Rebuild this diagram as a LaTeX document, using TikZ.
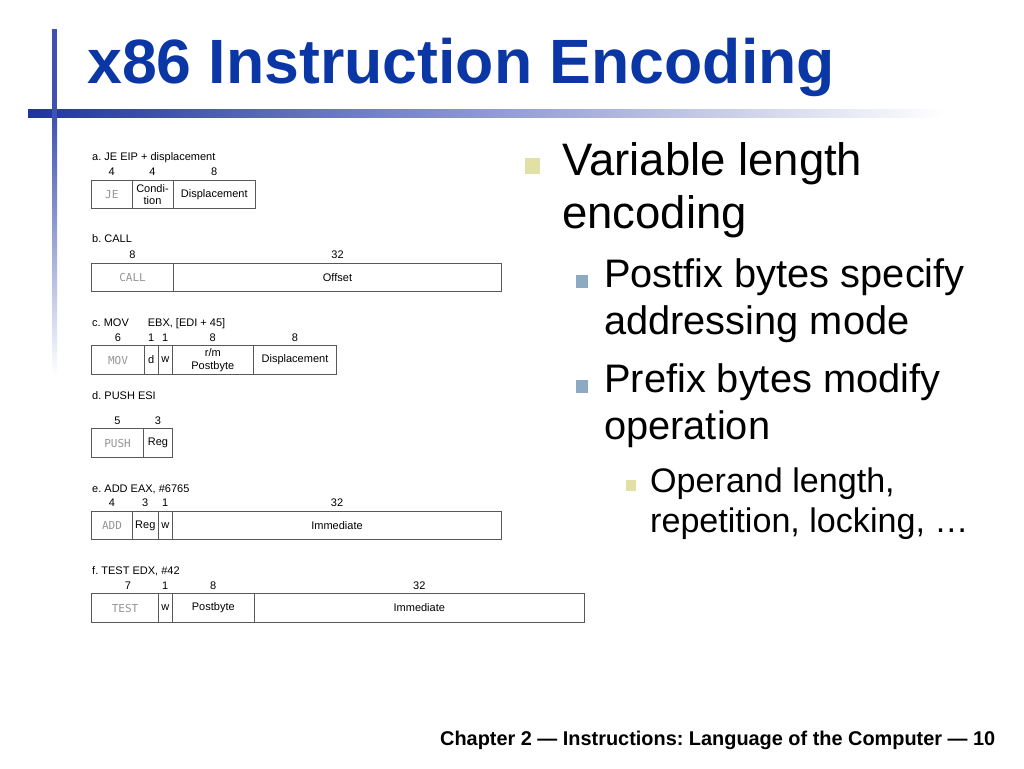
\documentclass[tikz,border=0pt]{standalone}
\usepackage{fontspec}
\setmainfont{Liberation Sans}
\newfontfamily\opfont{DejaVu Sans Mono}
\usepackage{tikz}
\frenchspacing

\definecolor{titleblue}{RGB}{10,55,165}
\definecolor{barblue}{RGB}{30,52,162}
\definecolor{bulletyellow}{RGB}{225,225,165}
\definecolor{bulletblue}{RGB}{140,170,195}

\tikzset{
  field/.style={draw=black!65, line width=0.7pt, inner sep=0pt, minimum height=28.5pt,
    align=center, font=\fontsize{11}{12.5}\selectfont},
  opcode/.style={field, text=black!42, font=\opfont\fontsize{11}{12}\selectfont},
  bits/.style={anchor=base, inner sep=0pt, font=\fontsize{11}{12}\selectfont},
  caption/.style={anchor=base west, inner sep=0pt, font=\fontsize{11}{12}\selectfont},
  lvlone/.style={anchor=base west, inner sep=0pt, font=\fontsize{45.5}{53}\selectfont},
  lvltwo/.style={anchor=base west, inner sep=0pt, font=\fontsize{39.8}{47}\selectfont},
  lvlthree/.style={anchor=base west, inner sep=0pt, font=\fontsize{34.1}{40}\selectfont}
}

\begin{document}
\begin{tikzpicture}[x=1pt,y=-1pt]
  \useasboundingbox (0,0) rectangle (1024,768);

  % title bars
  \shade[left color=barblue, right color=white] (28,109) rectangle (945,117);
  \fill[barblue!85] (52,29) rectangle (57,117);
  \shade[top color=barblue!85, bottom color=white] (52,117) rectangle (57,375);
  \node[anchor=base west, inner sep=0pt, text=titleblue,
    font=\bfseries\fontsize{62.6}{70}\selectfont] (title) at (87,83) {x86 Instruction Encoding};

  % a. JE
  \node[caption] (capa) at (92,160.5) {a. JE EIP + displacement};
  \node[opcode, minimum width=40.3pt] (je) at (111.8,194.5) {JE};
  \node[field, minimum width=41pt] (cond) at (152.5,194.5) {Condi-\\tion};
  \node[field, minimum width=82.7pt] (jdisp) at (214.3,194.5) {Displacement};
  \node[bits] at ([yshift=4pt]je.north) {4};
  \node[bits] at ([yshift=4pt]cond.north) {4};
  \node[bits] at ([yshift=4pt]jdisp.north) {8};

  % b. CALL
  \node[caption] (capb) at (92,242) {b. CALL};
  \node[opcode, minimum width=81.6pt] (call) at (132.5,277.5) {CALL};
  \node[field, minimum width=328.4pt] (offset) at (337.5,277.5) {Offset};
  \node[bits] at ([yshift=4pt]call.north) {8};
  \node[bits] at ([yshift=4pt]offset.north) {32};

  % c. MOV
  \node[caption] (capc) at (92,326) {c. MOV\hspace{19pt}EBX, [EDI + 45]};
  \node[opcode, minimum width=52.6pt] (mov) at (118,360) {MOV};
  \node[field, minimum width=14pt] (dbit) at (151.3,360) {d};
  \node[field, minimum width=14pt] (wbitc) at (165.3,360) {w};
  \node[field, minimum width=81pt] (rmpost) at (212.8,360) {r/m\\Postbyte};
  \node[field, minimum width=83.4pt] (mdisp) at (295,360) {Displacement};
  \node[bits] at ([yshift=4pt]mov.north) {6};
  \node[bits] at ([yshift=4pt]dbit.north) {1};
  \node[bits] at ([yshift=4pt]wbitc.north) {1};
  \node[bits] at ([yshift=4pt]rmpost.north) {8};
  \node[bits] at ([yshift=4pt]mdisp.north) {8};

  % d. PUSH
  \node[caption] (capd) at (92,399) {d. PUSH ESI};
  \node[opcode, minimum width=51.6pt] (push) at (117.5,443) {PUSH};
  \node[field, minimum width=29.4pt] (regd) at (158,443) {Reg};
  \node[bits] at ([yshift=4pt]push.north) {5};
  \node[bits] at ([yshift=4pt]regd.north) {3};

  % e. ADD
  \node[caption] (cape) at (92,492) {e. ADD EAX, \#6765};
  \node[opcode, minimum width=40.6pt] (add) at (112,525.5) {ADD};
  \node[field, minimum width=26pt] (rege) at (145.3,525.5) {Reg};
  \node[field, minimum width=14pt] (wbite) at (165.3,525.5) {w};
  \node[field, minimum width=329.4pt] (imme) at (337,525.5) {Immediate};
  \node[bits] at ([yshift=4pt]add.north) {4};
  \node[bits] at ([yshift=4pt]rege.north) {3};
  \node[bits] at ([yshift=4pt]wbite.north) {1};
  \node[bits] at ([yshift=4pt]imme.north) {32};

  % f. TEST
  \node[caption] (capf) at (92,574) {f. TEST EDX, \#42};
  \node[opcode, minimum width=66.6pt] (test) at (125,608) {TEST};
  \node[field, minimum width=14pt] (wbitf) at (165.3,608) {w};
  \node[field, minimum width=82pt] (postf) at (213.3,608) {Postbyte};
  \node[field, minimum width=330pt] (immf) at (419.3,608) {Immediate};
  \node[bits] at ([xshift=3pt,yshift=4pt]test.north) {7};
  \node[bits] at ([yshift=4pt]wbitf.north) {1};
  \node[bits] at ([yshift=4pt]postf.north) {8};
  \node[bits] at ([yshift=4pt]immf.north) {32};

  % bullets
  \fill[bulletyellow] (524.5,158) rectangle (540,173.5);
  \node[lvlone] (var1) at (562,175) {Variable length};
  \node[lvlone] (var2) at (562,228) {encoding};
  \fill[bulletblue] (575.5,275) rectangle (588,287.5);
  \node[lvltwo] (post1) at (604,287) {Postfix bytes specify};
  \node[lvltwo] (post2) at (604,334) {addressing mode};
  \fill[bulletblue] (575.5,380) rectangle (588,392.5);
  \node[lvltwo] (pre1) at (604,392) {Prefix bytes modify};
  \node[lvltwo] (pre2) at (604,439) {operation};
  \fill[bulletyellow] (626,480) rectangle (636,491);
  \node[lvlthree] (oper1) at (650,492) {Operand length,};
  \node[lvlthree] (oper2) at (650,532) {repetition, locking, …};

  % footer
  \node[anchor=base west, inner sep=0pt, font=\bfseries\fontsize{19.9}{22}\selectfont]
    (footer) at (440,745) {Chapter 2 — Instructions: Language of the Computer — 10};
\end{tikzpicture}
\end{document}
